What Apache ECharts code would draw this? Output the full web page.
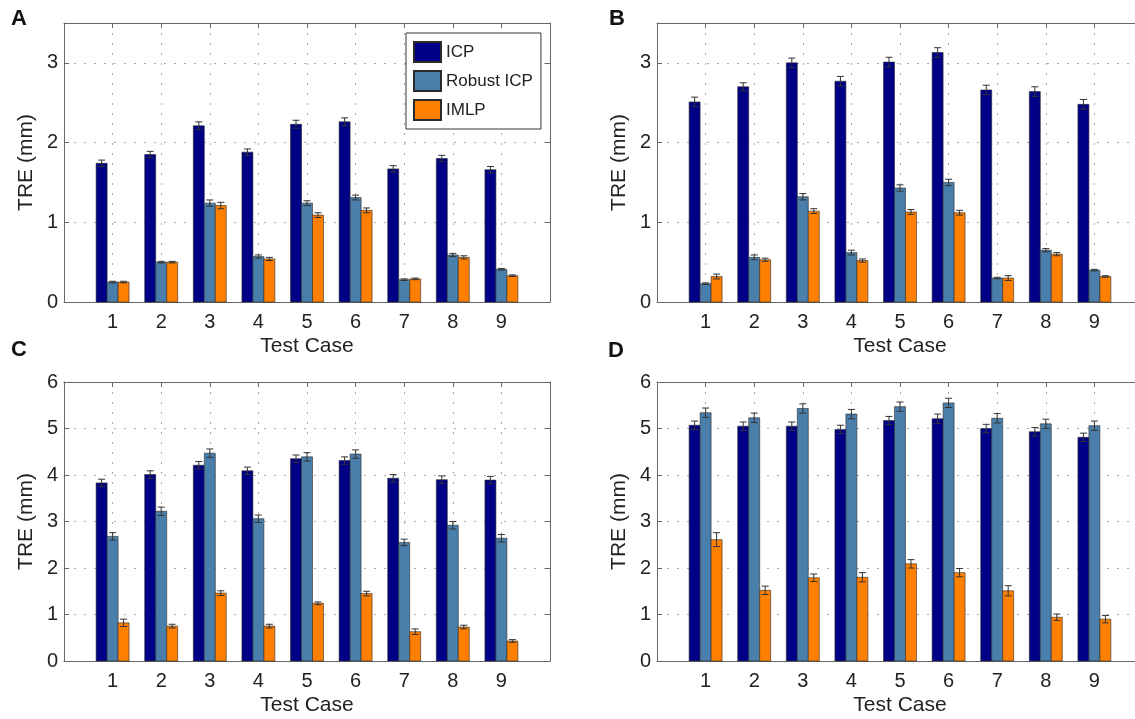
<!DOCTYPE html>
<html>
<head>
<meta charset="utf-8">
<script src="https://cdn.jsdelivr.net/npm/echarts@6/dist/echarts.min.js"></script>
<style>
html, body { margin: 0; padding: 0; background: #fff; overflow: hidden; }
#main { width: 1135px; height: 719px; }
</style>
</head>
<body>
<div id="main"></div>
<script>
// 数据
var cases = [1, 2, 3, 4, 5, 6, 7, 8, 9];
var seriesNames = ['ICP', 'Robust ICP', 'IMLP'];
var colors = ['#000087', '#4a7eab', '#ff8000'];

// A
var icpA = [1.74, 1.85, 2.21, 1.88, 2.23, 2.26, 1.67, 1.80, 1.66];
var robA = [0.25, 0.50, 1.24, 0.57, 1.24, 1.31, 0.28, 0.59, 0.41];
var imlpA = [0.25, 0.50, 1.21, 0.54, 1.09, 1.15, 0.29, 0.56, 0.33];
var icpErrA = [0.04, 0.04, 0.05, 0.04, 0.05, 0.05, 0.04, 0.04, 0.04];
var robErrA = [0.01, 0.01, 0.04, 0.02, 0.03, 0.03, 0.01, 0.02, 0.01];
var imlpErrA = [0.01, 0.01, 0.04, 0.02, 0.03, 0.03, 0.01, 0.02, 0.01];

// B
var icpB = [2.51, 2.70, 3.00, 2.77, 3.01, 3.13, 2.66, 2.64, 2.48];
var robB = [0.23, 0.56, 1.32, 0.62, 1.43, 1.50, 0.30, 0.65, 0.40];
var imlpB = [0.32, 0.53, 1.14, 0.52, 1.13, 1.12, 0.30, 0.60, 0.32];
var icpErrB = [0.06, 0.05, 0.06, 0.06, 0.06, 0.06, 0.06, 0.06, 0.06];
var robErrB = [0.01, 0.03, 0.04, 0.03, 0.04, 0.04, 0.01, 0.02, 0.01];
var imlpErrB = [0.03, 0.02, 0.03, 0.02, 0.03, 0.03, 0.03, 0.02, 0.01];

// C
var icpC = [3.83, 4.01, 4.21, 4.09, 4.35, 4.31, 3.93, 3.90, 3.89];
var robC = [2.68, 3.22, 4.47, 3.06, 4.39, 4.45, 2.55, 2.92, 2.64];
var imlpC = [0.82, 0.75, 1.46, 0.75, 1.24, 1.45, 0.63, 0.73, 0.43];
var icpErrC = [0.08, 0.08, 0.08, 0.08, 0.08, 0.08, 0.08, 0.08, 0.08];
var robErrC = [0.08, 0.09, 0.09, 0.08, 0.09, 0.09, 0.07, 0.08, 0.08];
var imlpErrC = [0.08, 0.04, 0.05, 0.04, 0.03, 0.05, 0.06, 0.04, 0.03];

// D
var icpD = [5.07, 5.05, 5.05, 4.98, 5.17, 5.21, 5.00, 4.93, 4.81];
var robD = [5.34, 5.23, 5.43, 5.31, 5.47, 5.55, 5.22, 5.10, 5.06];
var imlpD = [2.61, 1.52, 1.79, 1.80, 2.09, 1.90, 1.51, 0.94, 0.90];
var icpErrD = [0.09, 0.09, 0.09, 0.09, 0.09, 0.10, 0.09, 0.09, 0.09];
var robErrD = [0.10, 0.10, 0.10, 0.10, 0.10, 0.10, 0.10, 0.10, 0.10];
var imlpErrD = [0.15, 0.09, 0.08, 0.10, 0.09, 0.09, 0.11, 0.07, 0.08];

var panels = [
    { label: 'A', ymax: 3.5, values: [icpA, robA, imlpA], errs: [icpErrA, robErrA, imlpErrA] },
    { label: 'B', ymax: 3.5, values: [icpB, robB, imlpB], errs: [icpErrB, robErrB, imlpErrB] },
    { label: 'C', ymax: 6, values: [icpC, robC, imlpC], errs: [icpErrC, robErrC, imlpErrC] },
    { label: 'D', ymax: 6, values: [icpD, robD, imlpD], errs: [icpErrD, robErrD, imlpErrD] }
];

// 版面 (右边两个图的右框在画面外)
var grids = [
    { left: 64, top: 23, width: 486, height: 279 },
    { left: 657, top: 23, width: 486, height: 279 },
    { left: 64, top: 382, width: 486, height: 279 },
    { left: 657, top: 382, width: 486, height: 279 }
];
var letterPos = [[11, 8], [609, 8], [11, 339], [608, 340]];

var FONT = '"Liberation Sans", Arial, Helvetica, sans-serif';
var frameColor = '#666';

// 柱子 + 误差棒
function barRender(k) {
    return function (params, api) {
        var x = api.value(0), v = api.value(1), e = api.value(2);
        var unit = api.size([1, 0])[0];
        var bw = unit * 0.226;
        var base = api.coord([x, 0]);
        var left = base[0] + (k - 1.5) * bw;
        var top = api.coord([x, v])[1];
        var hi = api.coord([x, v + e])[1];
        var lo = api.coord([x, v - e])[1];
        var cx = left + bw / 2;
        var cap = 3.5;
        var errStyle = { stroke: '#333', lineWidth: 1 };
        return {
            type: 'group',
            children: [
                { type: 'rect', shape: { x: left, y: top, width: bw, height: base[1] - top },
                  style: { fill: colors[k], stroke: '#2a2a2a', lineWidth: 0.6 } },
                { type: 'line', shape: { x1: cx, y1: hi, x2: cx, y2: lo }, style: errStyle },
                { type: 'line', shape: { x1: cx - cap, y1: hi, x2: cx + cap, y2: hi }, style: errStyle },
                { type: 'line', shape: { x1: cx - cap, y1: lo, x2: cx + cap, y2: lo }, style: errStyle }
            ]
        };
    };
}

var option = {
    backgroundColor: '#fff',
    animation: false,
    textStyle: { fontFamily: FONT },
    grid: [],
    xAxis: [],
    yAxis: [],
    series: [],
    legend: {
        data: seriesNames,
        orient: 'vertical',
        left: 406,
        top: 33,
        icon: 'rect',
        itemWidth: 27,
        itemHeight: 20,
        itemGap: 7,
        padding: [8, 8, 8, 7],
        borderColor: '#333',
        borderWidth: 1,
        backgroundColor: '#fff',
        textStyle: { fontSize: 17, color: '#222', fontFamily: FONT }
    },
    graphic: []
};

var dotted = { color: '#aaa', width: 1, type: [2, 8] };

panels.forEach(function (p, i) {
    var g = grids[i];
    option.grid.push({
        left: g.left, top: g.top, width: g.width, height: g.height,
        containLabel: false, outerBoundsMode: 'none'
    });

    // 下方 x 轴
    option.xAxis.push({
        type: 'value', gridIndex: i, min: 0, max: 10, interval: 1, position: 'bottom',
        name: 'Test Case', nameLocation: 'middle', nameGap: 34,
        nameTextStyle: { fontSize: 21, color: '#222', fontFamily: FONT },
        axisLine: { show: true, onZero: false, lineStyle: { color: frameColor, width: 1 } },
        axisTick: { show: true, inside: true, length: 5, lineStyle: { color: frameColor } },
        axisLabel: {
            fontSize: 20, color: '#222', margin: 10, fontFamily: FONT,
            formatter: function (v) { return (v >= 1 && v <= 9) ? String(v) : ''; }
        },
        splitLine: { show: true, lineStyle: dotted }
    });
    // 上方 x 轴（只画框和刻度）
    option.xAxis.push({
        type: 'value', gridIndex: i, min: 0, max: 10, interval: 1, position: 'top',
        axisLine: { show: true, onZero: false, lineStyle: { color: frameColor, width: 1 } },
        axisTick: { show: true, inside: true, length: 5, lineStyle: { color: frameColor } },
        axisLabel: { show: false },
        splitLine: { show: false }
    });
    // 左 y 轴
    option.yAxis.push({
        type: 'value', gridIndex: i, min: 0, max: p.ymax, interval: 1, position: 'left',
        name: 'TRE (mm)', nameLocation: 'middle', nameGap: 27,
        nameTextStyle: { fontSize: 21, color: '#222', fontFamily: FONT },
        axisLine: { show: true, onZero: false, lineStyle: { color: frameColor, width: 1 } },
        axisTick: { show: true, inside: true, length: 5, lineStyle: { color: frameColor } },
        axisLabel: {
            fontSize: 20, color: '#222', margin: 6, fontFamily: FONT,
            formatter: function (v) { return v % 1 === 0 ? String(v) : ''; }
        },
        splitLine: { show: true, lineStyle: dotted }
    });
    // 右 y 轴
    option.yAxis.push({
        type: 'value', gridIndex: i, min: 0, max: p.ymax, interval: 1, position: 'right',
        axisLine: { show: true, onZero: false, lineStyle: { color: frameColor, width: 1 } },
        axisTick: { show: true, inside: true, length: 5, lineStyle: { color: frameColor } },
        axisLabel: { show: false },
        splitLine: { show: false }
    });

    for (var k = 0; k < 3; k++) {
        var data = cases.map(function (c, j) { return [c, p.values[k][j], p.errs[k][j]]; });
        option.series.push({
            type: 'custom',
            name: seriesNames[k],
            xAxisIndex: i * 2,
            yAxisIndex: i * 2,
            itemStyle: { color: colors[k], borderColor: '#2a2a2a', borderWidth: 0.8 },
            encode: { x: 0, y: 1 },
            renderItem: barRender(k),
            data: data
        });
    }

    option.graphic.push({
        type: 'text', left: letterPos[i][0], top: letterPos[i][1],
        style: { text: p.label, fontSize: 22, fontWeight: 'bold', fill: '#111', fontFamily: FONT }
    });
});

var myChart = echarts.init(document.getElementById('main'));
myChart.setOption(option);
</script>
</body>
</html>
